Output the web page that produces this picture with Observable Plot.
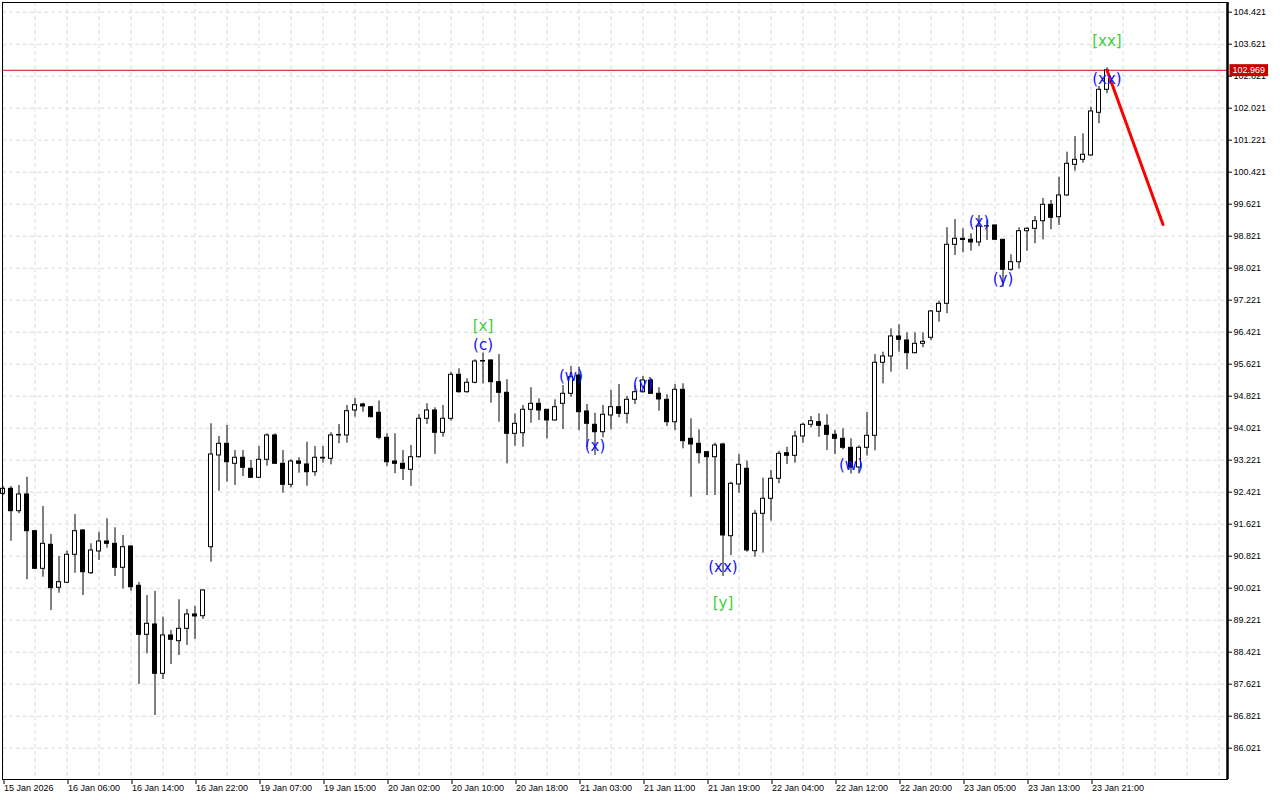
<!DOCTYPE html>
<html>
<head>
<meta charset="utf-8">
<script src="https://cdn.jsdelivr.net/npm/d3@7"></script>
<script src="https://cdn.jsdelivr.net/npm/@observablehq/plot@0.6"></script>
<style>
  html, body { margin: 0; padding: 0; background: #ffffff; }
  #chart svg { display: block; }
</style>
</head>
<body>
<div id="chart"></div>
<script>
// ---- Data (H1 bars) ----
const opens = [
  92.381, 92.506, 91.946, 92.364, 91.446, 90.506, 91.106, 90.031, 90.156, 90.856,
  91.464, 90.396, 90.939, 91.189, 91.131, 90.531, 91.064, 90.081, 88.856, 89.114,
  87.881, 88.839, 88.696, 89.006, 89.364, 89.321, 91.046, 93.339, 93.631, 93.131,
  93.281, 93.006, 92.781, 93.231, 93.839, 93.131, 92.606, 93.189, 93.114, 92.921,
  93.264, 93.256, 93.839, 93.839, 94.464, 94.614, 94.546, 94.406, 93.781, 93.189,
  93.131, 92.981, 93.296, 94.256, 94.464, 93.906, 94.256, 95.356, 94.921, 95.156,
  95.689, 95.714, 95.171, 94.906, 93.881, 93.896, 94.481, 94.631, 94.481, 94.214,
  94.631, 94.881, 95.339, 94.439, 94.106, 93.921, 94.339, 94.546, 94.381, 94.731,
  94.921, 95.214, 94.881, 94.731, 94.171, 94.981, 93.756, 93.631, 93.421, 93.296,
  93.614, 91.321, 92.614, 93.006, 90.946, 91.881, 92.256, 92.756, 93.396, 93.331,
  93.814, 94.106, 94.171, 94.081, 93.856, 93.756, 93.531, 93.039, 93.531, 93.831,
  95.656, 95.814, 96.314, 96.214, 95.896, 96.131, 96.281, 96.931, 97.131, 98.606,
  98.756, 98.731, 98.664, 99.064, 99.089, 98.731, 97.981, 98.171, 98.946, 99.006,
  99.196, 99.606, 99.296, 99.839, 100.606, 100.731, 100.839, 101.906, 102.481
];
const highs = [
  92.564, 92.564, 92.589, 92.796, 91.464, 92.064, 91.364, 90.814, 90.946, 91.864,
  91.489, 91.131, 91.421, 91.756, 91.531, 91.339, 91.070, 90.164, 89.839, 89.939,
  89.296, 88.964, 89.731, 89.489, 89.564, 89.989, 94.131, 93.814, 94.089, 93.464,
  93.464, 93.214, 93.564, 93.881, 93.881, 93.464, 93.231, 93.281, 93.671, 93.564,
  93.564, 93.906, 94.114, 94.589, 94.764, 94.646, 94.564, 94.700, 93.881, 93.881,
  93.464, 93.589, 94.364, 94.631, 94.531, 94.589, 95.421, 95.506, 95.256, 95.731,
  95.896, 95.731, 95.864, 95.231, 94.381, 94.589, 95.031, 94.756, 94.490, 94.731,
  95.089, 95.564, 95.546, 94.614, 94.396, 94.589, 94.964, 95.114, 94.814, 95.089,
  95.314, 95.264, 95.031, 94.856, 95.114, 95.131, 94.256, 93.981, 93.430, 93.646,
  93.646, 92.671, 93.364, 93.196, 91.964, 92.771, 92.964, 93.446, 93.546, 93.946,
  94.146, 94.314, 94.381, 94.356, 93.964, 94.006, 93.756, 93.581, 94.414, 95.864,
  95.921, 96.506, 96.606, 96.406, 96.406, 96.406, 96.964, 97.196, 99.031, 99.239,
  99.006, 98.881, 99.339, 99.214, 99.100, 98.740, 98.356, 99.031, 99.031, 99.314,
  99.764, 99.714, 100.296, 100.921, 101.314, 101.381, 102.046, 102.564, 103.031
];
const lows = [
  92.339, 91.196, 91.881, 90.231, 90.490, 90.296, 89.464, 89.896, 90.140, 90.396,
  89.839, 90.364, 90.714, 91.021, 90.314, 90.006, 89.946, 87.614, 88.381, 86.839,
  87.739, 88.114, 88.339, 88.589, 88.739, 89.239, 90.671, 92.446, 92.671, 92.589,
  92.814, 92.770, 92.770, 93.071, 93.120, 92.396, 92.531, 92.896, 92.571, 92.821,
  93.146, 93.106, 93.631, 93.646, 94.296, 94.421, 94.281, 93.731, 93.064, 92.881,
  92.714, 92.564, 93.280, 94.114, 93.364, 93.796, 94.196, 94.896, 94.896, 95.131,
  95.131, 94.646, 94.171, 93.131, 93.571, 93.546, 94.146, 94.214, 93.756, 94.196,
  93.989, 94.796, 93.964, 93.546, 93.339, 93.781, 93.981, 94.281, 94.131, 94.614,
  94.896, 94.864, 94.446, 94.064, 93.964, 93.506, 92.296, 93.131, 92.339, 92.339,
  90.314, 90.839, 92.396, 90.921, 90.796, 90.896, 91.696, 92.631, 93.114, 93.146,
  93.646, 94.031, 93.796, 93.464, 93.364, 93.481, 92.876, 92.876, 93.326, 93.456,
  95.131, 95.421, 95.921, 95.481, 95.881, 96.031, 96.214, 96.671, 96.881, 98.339,
  98.406, 98.446, 98.564, 98.714, 98.714, 97.546, 97.946, 98.006, 98.446, 98.631,
  98.731, 98.981, 99.089, 99.814, 100.446, 100.646, 100.820, 101.631, 102.381
];
const closes = [
  92.506, 91.946, 92.364, 91.446, 90.506, 91.131, 90.021, 90.171, 90.856, 91.446,
  90.421, 90.964, 91.189, 91.131, 90.531, 91.046, 90.046, 88.856, 89.131, 87.881,
  88.839, 88.731, 89.006, 89.364, 89.314, 89.964, 93.364, 93.631, 93.171, 93.281,
  93.031, 92.781, 93.231, 93.839, 93.131, 92.606, 93.189, 93.131, 92.921, 93.281,
  93.281, 93.839, 93.852, 94.446, 94.596, 94.564, 94.296, 93.781, 93.171, 93.131,
  93.006, 93.296, 94.256, 94.464, 93.906, 94.256, 95.356, 94.921, 95.156, 95.689,
  95.701, 95.171, 94.906, 93.881, 94.131, 94.481, 94.631, 94.464, 94.214, 94.546,
  94.881, 95.296, 94.421, 94.131, 93.921, 94.356, 94.546, 94.381, 94.731, 94.921,
  95.214, 94.881, 94.739, 94.171, 94.981, 93.696, 93.614, 93.396, 93.296, 93.589,
  91.339, 92.631, 93.106, 90.964, 91.881, 92.256, 92.756, 93.381, 93.331, 93.814,
  94.106, 94.196, 94.081, 93.856, 93.756, 93.531, 93.039, 93.531, 93.831, 95.656,
  95.814, 96.314, 96.231, 95.896, 96.131, 96.181, 96.939, 97.131, 98.606, 98.756,
  98.726, 98.664, 99.064, 99.070, 98.731, 97.981, 98.171, 98.946, 99.006, 99.196,
  99.606, 99.281, 99.839, 100.631, 100.731, 100.856, 101.939, 102.481, 102.969
];

// x-axis labels, one every 8 bars starting at bar 0
const timeLabels = [
  "15 Jan 2026", "16 Jan 06:00", "16 Jan 14:00", "16 Jan 22:00", "19 Jan 07:00",
  "19 Jan 15:00", "20 Jan 02:00", "20 Jan 10:00", "20 Jan 18:00", "21 Jan 03:00",
  "21 Jan 11:00", "21 Jan 19:00", "22 Jan 04:00", "22 Jan 12:00", "22 Jan 20:00",
  "23 Jan 05:00", "23 Jan 13:00", "23 Jan 21:00"
];
const priceTicks = [
  86.021, 86.821, 87.621, 88.421, 89.221, 90.021, 90.821, 91.621, 92.421, 93.221,
  94.021, 94.821, 95.621, 96.421, 97.221, 98.021, 98.821, 99.621, 100.421, 101.221,
  102.021, 102.821, 103.621, 104.421
];
const lastPrice = 102.969;

// Projection arrow (bar, price)
const projBars = [138, 145];
const projPrices = [102.969, 99.114];

// Wave labels
const waveTexts  = ["[x]", "(c)", "(w)", "(x)", "(y)", "(xx)", "[y]", "(w)", "(x)", "(y)", "(xx)", "[xx]"];
const waveBars   = [60, 60, 71, 74, 80, 90, 90, 106, 122, 125, 138, 138];
const wavePrices = [96.564, 96.089, 95.314, 93.564, 95.114, 90.546, 89.639, 93.089, 99.171, 97.756, 102.756, 103.696];
const waveLevels = ["major", "minor", "minor", "minor", "minor", "minor", "major", "minor", "minor", "minor", "minor", "major"];

// ---- Build tables ----
const candles = opens.map((o, i) => ({
  i, o, h: highs[i], l: lows[i], c: closes[i], up: closes[i] >= o
}));
const tickBars = timeLabels.map((_, k) => k * 8);
const labelByBar = new Map(tickBars.map((b, k) => [b, timeLabels[k]]));
const gridBars = d3.range(0, 153, 4);
const projection = projBars.map((b, k) => ({bar: b, price: projPrices[k]}));
const waves = waveTexts.map((t, k) => ({t, bar: waveBars[k], price: wavePrices[k], level: waveLevels[k]}));

const xDomain = [-0.0625, 153.0625];
const yDomain = [85.2385, 104.6635];
const halfBody = 0.25;

const chart = Plot.plot({
  width: 1280,
  height: 800,
  marginTop: 2,
  marginLeft: 2,
  marginRight: 53,
  marginBottom: 21,
  style: {fontFamily: "'Liberation Sans', Arial, sans-serif", fontSize: "9px", background: "#ffffff", overflow: "visible"},
  x: {type: "linear", domain: xDomain},
  y: {type: "linear", domain: yDomain},
  marks: [
    // grid
    Plot.ruleY(priceTicks, {stroke: "#dcdcdc", strokeDasharray: "4,3", strokeWidth: 1}),
    Plot.ruleX(gridBars, {stroke: "#dcdcdc", strokeDasharray: "4,3", strokeWidth: 1}),
    // last-price line
    Plot.ruleY([lastPrice], {stroke: "#e00000", strokeWidth: 1}),
    // wicks
    Plot.ruleX(candles, {x: "i", y1: "l", y2: "h", stroke: "#000000", strokeWidth: 1}),
    // bodies
    Plot.rect(candles, {
      x1: d => d.i - halfBody, x2: d => d.i + halfBody,
      y1: "o", y2: "c",
      fill: d => d.up ? "#ffffff" : "#000000",
      stroke: "#000000", strokeWidth: 1
    }),
    // projection
    Plot.line(projection, {x: "bar", y: "price", stroke: "#ff0000", strokeWidth: 3}),
    // wave labels
    Plot.text(waves, {
      x: "bar", y: "price", text: "t",
      fill: d => d.level === "major" ? "#3ccf3c" : "#1010ff",
      fontSize: 15, fontFamily: "'DejaVu Sans', Verdana, sans-serif",
      textAnchor: "middle", lineAnchor: "middle"
    }),
    // frame and axes
    Plot.frame({stroke: "#000000", strokeWidth: 1}),
    Plot.ruleX([xDomain[1]], {stroke: "#000000", strokeWidth: 2.5}),
    Plot.axisY(priceTicks, {
      anchor: "right", tickSize: 4, tickPadding: 2, label: null,
      tickFormat: d => d.toFixed(3), fill: "#000000", stroke: "#000000"
    }),
    Plot.axisX(tickBars, {
      anchor: "bottom", tickSize: 5, tickPadding: 0, label: null,
      tickFormat: b => labelByBar.get(b), textAnchor: "start", dx: 1,
      fill: "#000000", stroke: "#000000"
    }),
    // current price label on the axis
    Plot.text([lastPrice], {
      x: xDomain[1], y: d => d, text: d => d.toFixed(3),
      dx: 5, textAnchor: "start", lineAnchor: "middle",
      fill: "#ffffff", fontSize: 9, className: "price-tag"
    })
  ]
});

document.getElementById("chart").appendChild(chart);

// red background box behind the current-price tag
d3.select(chart).selectAll(".price-tag text").each(function() {
  const bb = this.getBBox();
  const rect = document.createElementNS("http://www.w3.org/2000/svg", "rect");
  rect.setAttribute("x", bb.x - 3);
  rect.setAttribute("y", bb.y - 1);
  rect.setAttribute("width", bb.width + 6);
  rect.setAttribute("height", bb.height + 2);
  rect.setAttribute("fill", "#c80000");
  const tf = this.getAttribute("transform");
  if (tf) rect.setAttribute("transform", tf);
  this.parentNode.insertBefore(rect, this);
});
</script>
</body>
</html>
